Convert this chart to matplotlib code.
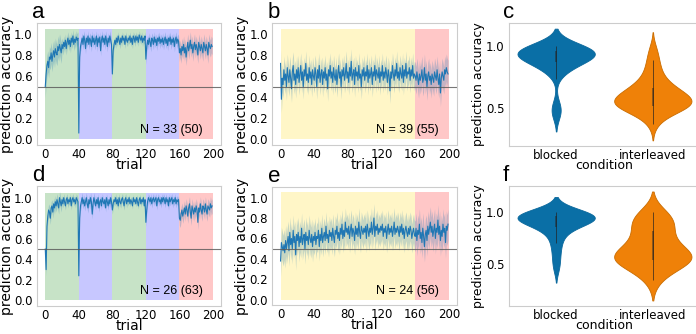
import numpy as np
import matplotlib
matplotlib.use("Agg")
import matplotlib.pyplot as plt
import seaborn as sns

# ---- data ----
trials = np.arange(200)
block_edges = [0, 40, 80, 120, 160, 200]
blocked_colors = ["green", "blue", "green", "blue", "red"]
interleaved_colors = ["gold", "gold", "gold", "gold", "red"]

acc_a = [
    0.50, 0.62, 0.70, 0.74, 0.68, 0.78, 0.76, 0.82, 0.74, 0.80, 0.84, 0.78, 0.86, 0.82, 0.80, 0.88, 0.84, 0.90, 0.86, 0.82,
    0.90, 0.86, 0.92, 0.88, 0.94, 0.86, 0.92, 0.96, 0.90, 0.94, 0.88, 0.96, 0.92, 0.98, 0.90, 0.95, 0.92, 0.97, 0.94, 0.96,
    0.06, 0.78, 0.88, 0.92, 0.96, 0.90, 0.98, 0.94, 0.86, 0.96, 0.92, 0.98, 0.90, 0.96, 0.94, 0.88, 0.98, 0.92, 0.96, 0.90,
    0.94, 0.98, 0.88, 0.96, 0.92, 0.97, 0.84, 0.94, 0.98, 0.92, 0.96, 0.90, 0.98, 0.94, 0.88, 0.96, 0.92, 0.98, 0.94, 0.90,
    0.62, 0.84, 0.90, 0.94, 0.90, 0.96, 0.92, 0.98, 0.94, 0.90, 0.96, 0.92, 0.98, 0.94, 0.96, 0.90, 0.98, 0.94, 0.92, 0.96,
    0.94, 0.98, 0.92, 0.96, 0.90, 0.98, 0.96, 0.92, 0.98, 0.94, 0.97, 0.92, 0.99, 0.96, 0.94, 0.98, 0.92, 0.96, 0.94, 0.98,
    0.76, 0.88, 0.94, 0.90, 0.96, 0.92, 0.88, 0.96, 0.94, 0.90, 0.97, 0.92, 0.95, 0.89, 0.96, 0.93, 0.97, 0.91, 0.95, 0.92,
    0.96, 0.90, 0.94, 0.97, 0.91, 0.95, 0.89, 0.96, 0.93, 0.97, 0.90, 0.95, 0.92, 0.96, 0.88, 0.94, 0.97, 0.91, 0.95, 0.93,
    0.82, 0.86, 0.80, 0.88, 0.84, 0.90, 0.82, 0.87, 0.78, 0.86, 0.92, 0.84, 0.88, 0.94, 0.86, 0.90, 0.82, 0.88, 0.92, 0.85,
    0.90, 0.86, 0.80, 0.92, 0.88, 0.84, 0.90, 0.86, 0.82, 0.92, 0.88, 0.84, 0.90, 0.86, 0.80, 0.92, 0.88, 0.86, 0.90, 0.88,
]
acc_b = [
    0.72, 0.38, 0.58, 0.52, 0.66, 0.56, 0.62, 0.50, 0.68, 0.60, 0.54, 0.66, 0.58, 0.48, 0.64, 0.70, 0.56, 0.62, 0.52, 0.66,
    0.58, 0.68, 0.54, 0.62, 0.70, 0.56, 0.64, 0.50, 0.66, 0.60, 0.72, 0.56, 0.62, 0.54, 0.68, 0.58, 0.64, 0.52, 0.66, 0.60,
    0.56, 0.68, 0.62, 0.50, 0.66, 0.58, 0.70, 0.54, 0.62, 0.66, 0.52, 0.64, 0.58, 0.68, 0.56, 0.62, 0.48, 0.66, 0.60, 0.70,
    0.58, 0.64, 0.54, 0.68, 0.60, 0.56, 0.66, 0.52, 0.62, 0.70, 0.58, 0.64, 0.50, 0.66, 0.60, 0.68, 0.56, 0.62, 0.72, 0.58,
    0.64, 0.54, 0.68, 0.60, 0.74, 0.56, 0.62, 0.66, 0.52, 0.68, 0.60, 0.64, 0.56, 0.70, 0.58, 0.62, 0.50, 0.66, 0.60, 0.68,
    0.56, 0.64, 0.60, 0.70, 0.54, 0.66, 0.58, 0.62, 0.68, 0.52, 0.64, 0.60, 0.70, 0.56, 0.66, 0.62, 0.58, 0.68, 0.54, 0.64,
    0.60, 0.70, 0.56, 0.64, 0.58, 0.68, 0.62, 0.54, 0.66, 0.60, 0.46, 0.64, 0.58, 0.70, 0.62, 0.56, 0.66, 0.60, 0.72, 0.58,
    0.64, 0.56, 0.68, 0.62, 0.58, 0.70, 0.54, 0.66, 0.60, 0.72, 0.58, 0.64, 0.62, 0.68, 0.56, 0.66, 0.60, 0.70, 0.58, 0.62,
    0.60, 0.56, 0.64, 0.58, 0.52, 0.62, 0.56, 0.60, 0.66, 0.54, 0.58, 0.68, 0.56, 0.62, 0.50, 0.60, 0.64, 0.56, 0.60, 0.52,
    0.62, 0.58, 0.54, 0.64, 0.60, 0.56, 0.66, 0.58, 0.52, 0.62, 0.44, 0.58, 0.64, 0.60, 0.56, 0.66, 0.62, 0.68, 0.64, 0.62,
]
acc_d = [
    0.50, 0.30, 0.72, 0.82, 0.88, 0.86, 0.80, 0.90, 0.92, 0.86, 0.94, 0.90, 0.96, 0.92, 0.98, 0.94, 0.90, 1.00, 0.96, 0.92,
    0.98, 0.94, 1.00, 0.96, 0.92, 0.98, 1.00, 0.94, 0.98, 0.96, 1.00, 0.92, 0.98, 1.00, 0.96, 0.98, 0.94, 1.00, 0.98, 0.96,
    0.24, 0.80, 0.92, 0.96, 1.00, 0.94, 0.98, 0.92, 0.96, 1.00, 0.94, 0.90, 0.98, 0.94, 1.00, 0.96, 0.84, 0.94, 1.00, 0.96,
    0.92, 0.98, 0.94, 1.00, 0.90, 0.96, 0.98, 0.92, 1.00, 0.96, 0.94, 0.98, 0.90, 1.00, 0.96, 0.92, 0.98, 0.94, 1.00, 0.96,
    0.88, 0.94, 0.98, 0.96, 1.00, 0.94, 0.98, 0.92, 1.00, 0.96, 0.94, 0.98, 1.00, 0.96, 0.92, 0.98, 1.00, 0.94, 0.98, 0.96,
    1.00, 0.94, 0.98, 0.96, 0.92, 1.00, 0.96, 0.98, 0.94, 1.00, 0.96, 0.92, 0.98, 1.00, 0.94, 0.98, 0.96, 1.00, 0.92, 0.98,
    0.76, 0.88, 0.96, 1.00, 0.98, 0.96, 1.00, 0.94, 0.98, 1.00, 0.96, 0.98, 1.00, 0.92, 0.98, 1.00, 0.96, 0.98, 0.94, 1.00,
    0.96, 1.00, 0.98, 0.94, 1.00, 0.96, 0.98, 0.92, 1.00, 0.96, 0.98, 1.00, 0.94, 0.98, 0.96, 1.00, 0.94, 0.98, 0.96, 0.98,
    0.80, 0.78, 0.84, 0.88, 0.82, 0.86, 0.90, 0.84, 0.92, 0.88, 0.82, 0.90, 0.94, 0.86, 0.80, 0.92, 0.88, 0.84, 0.90, 0.86,
    0.92, 0.88, 0.76, 0.90, 0.86, 0.94, 0.88, 0.84, 0.92, 0.90, 0.86, 0.94, 0.88, 0.84, 0.92, 0.90, 0.88, 0.94, 0.90, 0.92,
]
acc_e = [
    0.38, 0.56, 0.52, 0.48, 0.54, 0.46, 0.58, 0.50, 0.56, 0.62, 0.48, 0.66, 0.54, 0.60, 0.50, 0.68, 0.56, 0.62, 0.44, 0.64,
    0.58, 0.66, 0.52, 0.62, 0.56, 0.70, 0.54, 0.60, 0.64, 0.50, 0.66, 0.58, 0.62, 0.54, 0.68, 0.60, 0.56, 0.64, 0.52, 0.62,
    0.58, 0.66, 0.54, 0.62, 0.60, 0.68, 0.52, 0.64, 0.58, 0.70, 0.56, 0.62, 0.66, 0.58, 0.72, 0.60, 0.64, 0.56, 0.68, 0.62,
    0.66, 0.58, 0.70, 0.62, 0.56, 0.68, 0.64, 0.72, 0.60, 0.66, 0.58, 0.70, 0.64, 0.74, 0.60, 0.68, 0.62, 0.76, 0.66, 0.70,
    0.64, 0.72, 0.60, 0.68, 0.74, 0.62, 0.70, 0.66, 0.58, 0.72, 0.64, 0.70, 0.62, 0.76, 0.66, 0.60, 0.72, 0.68, 0.64, 0.70,
    0.66, 0.72, 0.60, 0.74, 0.68, 0.62, 0.70, 0.66, 0.76, 0.64, 0.70, 0.80, 0.62, 0.72, 0.68, 0.74, 0.64, 0.70, 0.66, 0.72,
    0.68, 0.74, 0.62, 0.70, 0.66, 0.72, 0.60, 0.68, 0.74, 0.64, 0.70, 0.66, 0.72, 0.62, 0.68, 0.76, 0.64, 0.70, 0.66, 0.72,
    0.68, 0.62, 0.72, 0.66, 0.74, 0.64, 0.70, 0.60, 0.68, 0.72, 0.66, 0.62, 0.70, 0.64, 0.72, 0.68, 0.60, 0.66, 0.70, 0.64,
    0.62, 0.70, 0.58, 0.68, 0.64, 0.74, 0.60, 0.66, 0.56, 0.70, 0.62, 0.52, 0.64, 0.68, 0.58, 0.72, 0.64, 0.70, 0.76, 0.66,
    0.72, 0.62, 0.68, 0.74, 0.60, 0.70, 0.66, 0.78, 0.64, 0.72, 0.58, 0.68, 0.62, 0.74, 0.66, 0.70, 0.56, 0.72, 0.68, 0.74,
]

# half width of the shaded band, one value per 20 trials
ci_a = [0.10, 0.06, 0.05, 0.05, 0.04, 0.04, 0.05, 0.05, 0.08, 0.08]
ci_b = [0.13, 0.12, 0.12, 0.12, 0.12, 0.12, 0.12, 0.12, 0.13, 0.13]
ci_d = [0.06, 0.04, 0.05, 0.04, 0.04, 0.03, 0.04, 0.04, 0.07, 0.07]
ci_e = [0.15, 0.15, 0.14, 0.14, 0.14, 0.14, 0.14, 0.14, 0.15, 0.15]

n_text = ["N = 33 (50)", "N = 39 (55)", "N = 26 (63)", "N = 24 (56)"]

conditions = ["blocked", "interleaved"]
blocked_c = [1.0, 0.99, 0.99, 0.98, 0.98, 0.97, 0.97, 0.96, 0.96, 0.96, 0.95, 0.95, 0.95,
             0.94, 0.94, 0.93, 0.93, 0.92, 0.92, 0.91, 0.90, 0.90, 0.89, 0.88, 0.87, 0.86,
             0.84, 0.82, 0.80, 0.78, 0.52, 0.48, 0.45]
interleaved_c = [0.37, 0.42, 0.45, 0.47, 0.48, 0.49, 0.50, 0.50, 0.51, 0.52, 0.52, 0.53, 0.54,
                 0.54, 0.55, 0.55, 0.56, 0.56, 0.57, 0.58, 0.58, 0.59, 0.60, 0.61, 0.62, 0.63,
                 0.64, 0.65, 0.66, 0.67, 0.69, 0.71, 0.73, 0.76, 0.79, 0.83, 0.87, 0.92, 0.98]
blocked_f = [1.0, 0.99, 0.98, 0.98, 0.97, 0.97, 0.96, 0.96, 0.96, 0.95, 0.95, 0.94, 0.94,
             0.93, 0.92, 0.91, 0.90, 0.89, 0.87, 0.85, 0.82, 0.78, 0.72, 0.65, 0.56, 0.46]
interleaved_f = [0.34, 0.42, 0.46, 0.49, 0.51, 0.53, 0.54, 0.55, 0.56, 0.57, 0.58, 0.60,
                 0.62, 0.65, 0.68, 0.72, 0.76, 0.80, 0.84, 0.88, 0.91, 0.94, 0.97, 1.0]

violin_colors = ["#0a6fa6", "#ef8108"]
violin_edges = ["#0a689c", "#c96c00"]

plt.rcParams["font.family"] = "DejaVu Sans"
SPINE = "#cccccc"


def line_panel(ax, acc, ci, colors, label, ntxt):
    for x0, x1, c in zip(block_edges[:-1], block_edges[1:], colors):
        ax.fill_between([x0, x1], 0, 1.05, color=c, alpha=0.22, lw=0)
    acc = np.array(acc)
    half = np.repeat(ci, 20)
    ax.fill_between(trials, acc - half, acc + half, color="#1f77b4", alpha=0.25, lw=0)
    ax.plot(trials, acc, color="#1f77b4", lw=0.8)
    ax.axhline(0.5, color="#555555", lw=0.8, alpha=0.8)
    ax.set_xticks([0, 40, 80, 120, 160, 200])
    ax.set_yticks([0.0, 0.2, 0.4, 0.6, 0.8, 1.0])
    ax.tick_params(length=0, labelsize=8.5)
    ax.tick_params(axis="x", pad=2)
    ax.tick_params(axis="y", pad=3)
    ax.set_xlabel("trial", fontsize=10, labelpad=-2)
    ax.set_ylabel("prediction accuracy", fontsize=10, labelpad=0)
    for s in ax.spines.values():
        s.set_color(SPINE)
    ax.text(113, 0.03, ntxt, family="Liberation Sans", fontsize=9, ha="left", va="bottom")
    ax.text(-0.025, 1.0, label, transform=ax.transAxes, family="Liberation Sans",
            fontsize=16, ha="left", va="bottom")


def violin_panel(ax, blocked, inter, label):
    vals = blocked + inter
    cond = [conditions[0]] * len(blocked) + [conditions[1]] * len(inter)
    sns.violinplot(x=cond, y=vals, hue=cond, palette=violin_colors, saturation=1,
                   inner=None, linewidth=0.6, legend=False, ax=ax)
    for coll, ec in zip(ax.collections, violin_edges):
        coll.set_edgecolor(ec)
    for i, d in enumerate([blocked, inter]):
        q1, q3 = np.percentile(d, [25, 75])
        iqr = q3 - q1
        lo = max(min(d), q1 - 1.5 * iqr)
        hi = min(max(d), q3 + 1.5 * iqr)
        ax.vlines(i, lo, hi, color="#222222", lw=0.6, alpha=0.8)
        ax.vlines(i, q1, q3, color="#222222", lw=1.1, alpha=0.6)
    ax.set_yticks([0.5, 1.0])
    ax.tick_params(length=0, labelsize=8.5)
    ax.tick_params(axis="x", pad=2)
    ax.tick_params(axis="y", pad=3)
    ax.set_xlabel("condition", fontsize=9, labelpad=-2)
    ax.set_ylabel("prediction accuracy", fontsize=9, labelpad=1)
    for s in ax.spines.values():
        s.set_color(SPINE)
    ax.text(-0.03, 1.0, label, transform=ax.transAxes, family="Liberation Sans",
            fontsize=16, ha="left", va="bottom")


fig = plt.figure(figsize=(6.96, 3.34), dpi=100)
ax_a = fig.add_axes([0.053, 0.566, 0.265, 0.365])
ax_b = fig.add_axes([0.391, 0.566, 0.266, 0.365])
ax_c = fig.add_axes([0.731, 0.563, 0.275, 0.368])
ax_d = fig.add_axes([0.053, 0.084, 0.265, 0.359])
ax_e = fig.add_axes([0.391, 0.086, 0.266, 0.354])
ax_f = fig.add_axes([0.731, 0.084, 0.275, 0.359])

line_panel(ax_a, acc_a, ci_a, blocked_colors, "a", n_text[0])
line_panel(ax_b, acc_b, ci_b, interleaved_colors, "b", n_text[1])
line_panel(ax_d, acc_d, ci_d, blocked_colors, "d", n_text[2])
line_panel(ax_e, acc_e, ci_e, interleaved_colors, "e", n_text[3])
violin_panel(ax_c, blocked_c, interleaved_c, "c")
violin_panel(ax_f, blocked_f, interleaved_f, "f")

fig.savefig("out.png", dpi=100)
